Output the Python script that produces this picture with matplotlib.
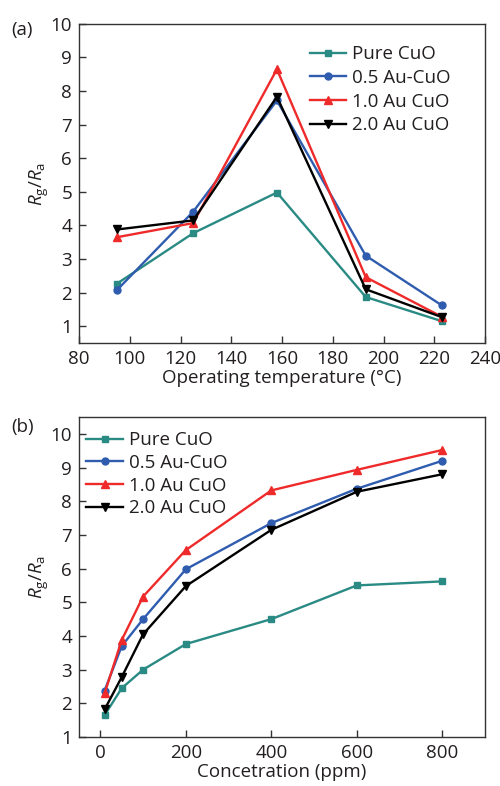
import matplotlib
matplotlib.use("Agg")
import matplotlib.pyplot as plt

# ---- data ----
temps = [95, 125, 158, 193, 223]
pure_a = [2.27, 3.77, 4.98, 1.87, 1.15]
au05_a = [2.08, 4.41, 7.72, 3.10, 1.62]
au10_a = [3.65, 4.07, 8.65, 2.46, 1.28]
au20_a = [3.88, 4.15, 7.83, 2.10, 1.27]

conc = [10, 50, 100, 200, 400, 600, 800]
pure_b = [1.65, 2.45, 3.00, 3.76, 4.50, 5.50, 5.62]
au05_b = [2.38, 3.70, 4.50, 5.98, 7.35, 8.37, 9.20]
au10_b = [2.30, 3.88, 5.17, 6.55, 8.32, 8.93, 9.52]
au20_b = [1.82, 2.78, 4.05, 5.48, 7.15, 8.28, 8.80]

labels = ["Pure CuO", "0.5 Au-CuO", "1.0 Au CuO", "2.0 Au CuO"]
colors = ["#2a8a84", "#2f5caf", "#ee2a2a", "#000000"]
markers = ["s", "o", "^", "v"]
msizes = [4, 5, 6, 6]

plt.rcParams["font.family"] = ["Open Sans", "DejaVu Sans"]
plt.rcParams["mathtext.fontset"] = "custom"
plt.rcParams["mathtext.it"] = "Open Sans:italic"
plt.rcParams["mathtext.rm"] = "Open Sans"

fig = plt.figure(figsize=(5, 7.86), dpi=100)
ax1 = fig.add_axes([0.158, 0.5636, 0.812, 0.406])
ax2 = fig.add_axes([0.158, 0.0623, 0.812, 0.4072])

txt_col = "#231f20"
fs = 13.5


def style(ax):
    for s in ax.spines.values():
        s.set_color("#333333")
        s.set_linewidth(1.0)
    ax.tick_params(direction="in", length=5, width=1, colors="#333333",
                   labelcolor=txt_col, labelsize=fs, top=False, right=False, pad=5)
    ax.set_ylabel(r"$R_{\mathrm{g}}/R_{\mathrm{a}}$", fontsize=fs, color=txt_col)
    ax.yaxis.set_label_coords(-0.068, 0.5)


for ys, c, m, ms, lab in zip([pure_a, au05_a, au10_a, au20_a], colors, markers, msizes, labels):
    ax1.plot(temps, ys, color=c, marker=m, markersize=ms, linewidth=1.7, label=lab)
ax1.set_xlim(80, 240)
ax1.set_ylim(0.5, 10)
ax1.set_xticks(range(80, 241, 20))
ax1.set_yticks(range(1, 11))
ax1.set_xlabel("Operating temperature (°C)", fontsize=fs, color=txt_col, labelpad=1)
style(ax1)
ax1.legend(loc="upper left", bbox_to_anchor=(0.545, 0.962), frameon=False, fontsize=fs,
           handlelength=1.95, handletextpad=0.3, labelspacing=0.3, borderpad=0,
           labelcolor=txt_col)
fig.text(0.022, 0.955, "(a)", fontsize=fs, color=txt_col)

for ys, c, m, ms, lab in zip([pure_b, au05_b, au10_b, au20_b], colors, markers, msizes, labels):
    ax2.plot(conc, ys, color=c, marker=m, markersize=ms, linewidth=1.7, label=lab)
ax2.set_xlim(-50, 900)
ax2.set_ylim(1, 10.5)
ax2.set_xticks(range(0, 801, 200))
ax2.set_yticks(range(1, 11))
ax2.set_xlabel("Concetration (ppm)", fontsize=fs, color=txt_col, labelpad=1)
style(ax2)
ax2.legend(loc="upper left", bbox_to_anchor=(-0.005, 0.985), frameon=False, fontsize=fs,
           handlelength=1.95, handletextpad=0.3, labelspacing=0.25, borderpad=0,
           labelcolor=txt_col)
fig.text(0.022, 0.45, "(b)", fontsize=fs, color=txt_col)

fig.savefig("out.png", dpi=100)
